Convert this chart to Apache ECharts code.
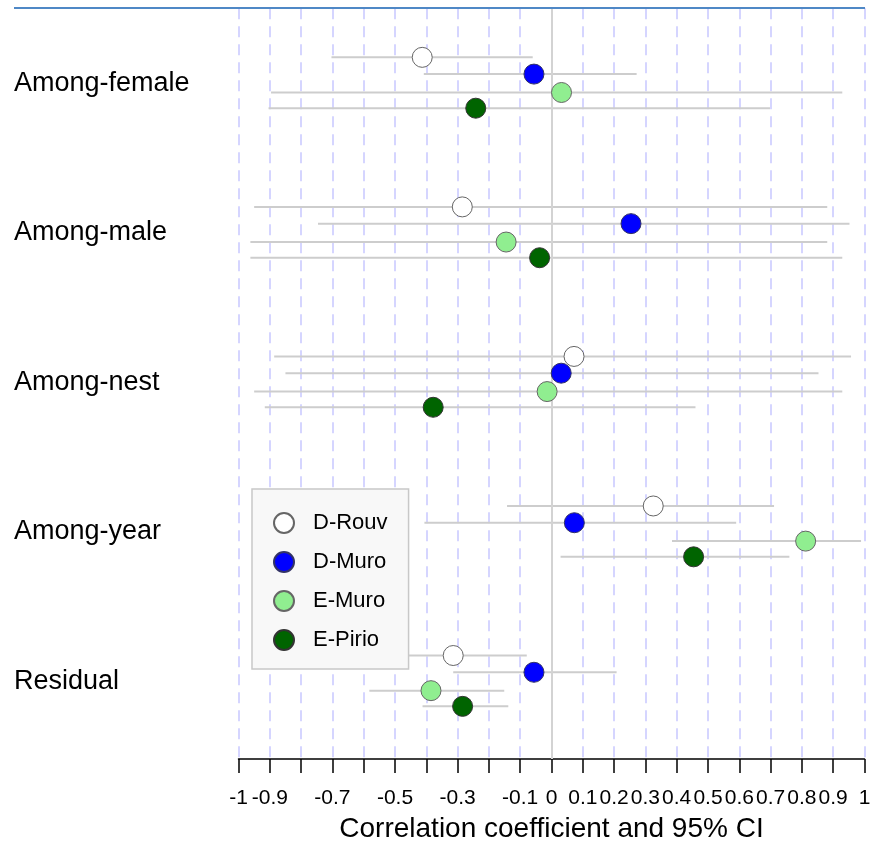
<!DOCTYPE html>
<html>
<head>
<meta charset="utf-8">
<script src="https://cdn.jsdelivr.net/npm/echarts@6/dist/echarts.min.js"></script>
<style>
html,body{margin:0;padding:0;background:#fff;}
#chart{width:870px;height:845px;}
</style>
</head>
<body>
<div id="chart"></div>
<script>
// ---- data ----
const categories = ['Among-female', 'Among-male', 'Among-nest', 'Among-year', 'Residual'];
const seriesNames = ['D-Rouv', 'D-Muro', 'E-Muro', 'E-Pirio'];

const estDRouv  = [-0.413, -0.285,  0.072, 0.325, -0.314];
const estDMuro  = [-0.056,  0.254,  0.031, 0.073, -0.056];
const estEMuro  = [ 0.032, -0.145, -0.014, 0.812, -0.385];
const estEPirio = [-0.242, -0.038, -0.378, 0.454, -0.284];

const lowDRouv  = [-0.703, -0.950, -0.886, -0.142, -0.550];
const lowDMuro  = [-0.408, -0.746, -0.850, -0.406, -0.314];
const lowEMuro  = [-0.896, -0.962, -0.950,  0.385, -0.582];
const lowEPirio = [-0.904, -0.962, -0.916,  0.029, -0.412];

const upDRouv  = [-0.060, 0.881, 0.957, 0.711, -0.079];
const upDMuro  = [ 0.272, 0.952, 0.853, 0.590,  0.208];
const upEMuro  = [ 0.929, 0.881, 0.929, 0.989, -0.151];
const upEPirio = [ 0.698, 0.929, 0.460, 0.760, -0.138];

const xTickLabels = [-1, -0.9, -0.7, -0.5, -0.3, -0.1, 0, 0.1, 0.2, 0.3, 0.4, 0.5, 0.6, 0.7, 0.8, 0.9, 1];

// ---- layout / style ----
const estimates = [estDRouv, estDMuro, estEMuro, estEPirio];
const lowers = [lowDRouv, lowDMuro, lowEMuro, lowEPirio];
const uppers = [upDRouv, upDMuro, upEMuro, upEPirio];
const rowOffset = [-0.172, -0.06, 0.063, 0.168];
const fills = ['#ffffff', '#0000ff', '#90ee90', '#006400'];
const borders = ['#666666', '#333366', '#666666', '#333333'];
const FONT = '"Liberation Sans", Arial, sans-serif';

const series = [];
// zero reference line
series.push({
  type: 'scatter', data: [], z: 1, silent: true,
  markLine: {
    silent: true, symbol: 'none', label: {show: false},
    lineStyle: {color: '#d3d3d3', width: 2, type: 'solid'},
    data: [{xAxis: 0}]
  }
});
// CI lines
seriesNames.forEach((name, s) => {
  const d = categories.map((c, i) => [lowers[s][i], uppers[s][i], i + rowOffset[s]]);
  series.push({
    type: 'custom', name: name + ' CI', z: 2, silent: true,
    encode: {x: [0, 1], y: 2},
    data: d,
    renderItem: function (params, api) {
      const p1 = api.coord([api.value(0), api.value(2)]);
      const p2 = api.coord([api.value(1), api.value(2)]);
      return {type: 'line', shape: {x1: p1[0], y1: p1[1], x2: p2[0], y2: p2[1]},
              style: {stroke: '#cdcdcd', lineWidth: 2}};
    }
  });
});
// points
seriesNames.forEach((name, s) => {
  series.push({
    type: 'scatter', name: name, z: 5,
    symbol: 'circle', symbolSize: 20,
    itemStyle: {color: fills[s], borderColor: borders[s], borderWidth: 1, opacity: 1},
    data: categories.map((c, i) => [estimates[s][i], i + rowOffset[s]])
  });
});

const chart = echarts.init(document.getElementById('chart'), null, {renderer: 'canvas'});
chart.setOption({
  backgroundColor: '#ffffff',
  animation: false,
  textStyle: {fontFamily: FONT},
  grid: {left: 238.5, right: 5.5, top: 8.3, bottom: 86, containLabel: false, outerBoundsMode: 'none'},
  xAxis: {
    type: 'value', min: -1, max: 1, interval: 0.1,
    name: 'Correlation coefficient and 95% CI',
    nameLocation: 'middle', nameGap: 56,
    nameTextStyle: {color: '#000', fontSize: 28, fontFamily: FONT},
    axisLine: {show: true, onZero: false, lineStyle: {color: '#000', width: 1.5}},
    axisTick: {show: true, length: 14, lineStyle: {color: '#000', width: 1.5}},
    axisLabel: {
      color: '#000', fontSize: 21, fontFamily: FONT, margin: 29,
      formatter: function (v) {
        const r = Math.round(v * 10) / 10;
        return xTickLabels.some(t => Math.abs(t - r) < 1e-9) ? String(r) : '';
      }
    },
    splitLine: {show: true, lineStyle: {color: '#c8c8ff', width: 1.5, type: [11, 7]}}
  },
  yAxis: {
    type: 'value', inverse: true, min: -0.5, max: 4.52, interval: 0.5,
    axisLine: {show: false}, axisTick: {show: false}, splitLine: {show: false},
    axisLabel: {
      color: '#000', fontSize: 27, fontFamily: FONT, align: 'left', margin: 224.5,
      padding: [5, 0, 0, 0],
      showMinLabel: true, showMaxLabel: false,
      formatter: function (v) {
        const r = Math.round(v);
        return (Math.abs(v - r) < 1e-6 && r >= 0 && r < categories.length) ? categories[r] : '';
      }
    }
  },
  legend: {
    data: seriesNames, orient: 'vertical', left: 252, top: 489,
    backgroundColor: '#f8f8f8', borderColor: '#c8c8c8', borderWidth: 1.5,
    padding: [23, 21, 18, 21], itemWidth: 20, itemHeight: 20, itemGap: 17,
    icon: 'circle', selectedMode: false,
    textStyle: {color: '#000', fontSize: 22, fontFamily: FONT, padding: [0, 0, 0, 14]}
  },
  graphic: [{
    type: 'line', silent: true, z: 10,
    shape: {x1: 14, y1: 8, x2: 865, y2: 8},
    style: {stroke: '#4f88c6', lineWidth: 2}
  }],
  series: series
});
</script>
</body>
</html>
